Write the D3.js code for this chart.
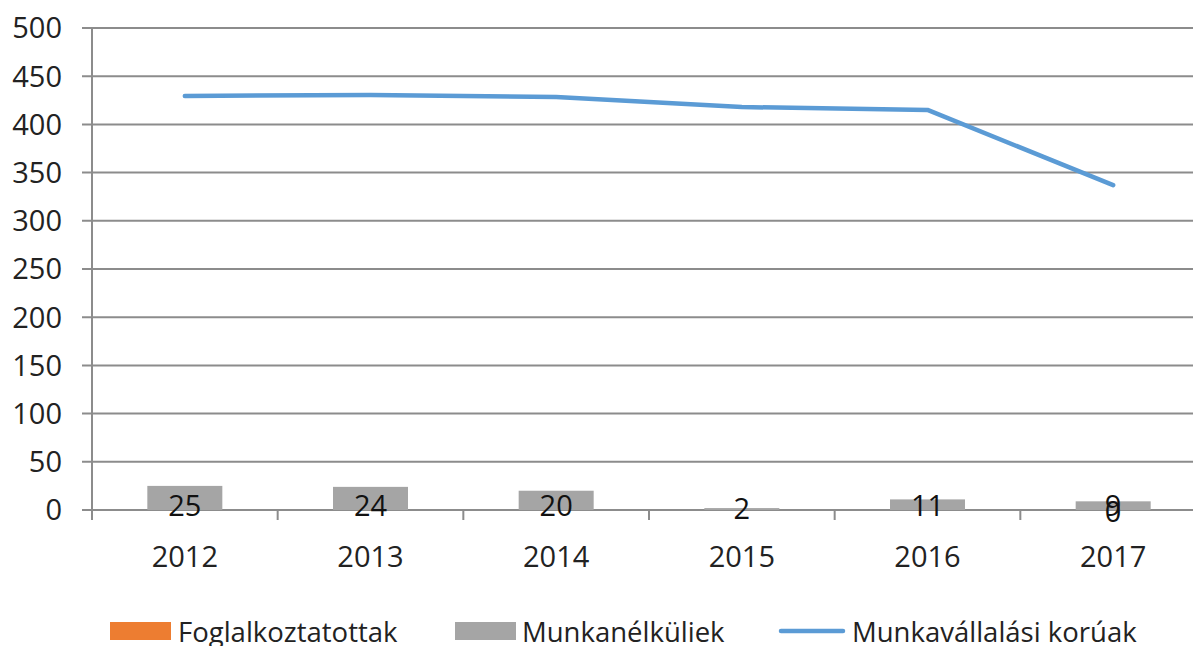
<!DOCTYPE html>
<html>
<head>
<meta charset="utf-8">
<script src="https://cdn.jsdelivr.net/npm/d3@7"></script>
<style>
  body { margin: 0; background: #fff; }
  svg { display: block; }
  text { font-family: "Open Sans", "DejaVu Sans", sans-serif; fill: #222; }
</style>
</head>
<body>
<svg id="chart" width="1193" height="646"></svg>
<script>
var years = ["2012", "2013", "2014", "2015", "2016", "2017"];
var employed = [null, null, null, null, null, 0];       // Foglalkoztatottak
var unemployed = [25, 24, 20, 2, 11, 9];                // Munkanélküliek
var workingAge = [429.5, 430.5, 428.5, 418, 415, 337];  // Munkavállalási korúak
var yTicks = [0, 50, 100, 150, 200, 250, 300, 350, 400, 450, 500];

var seriesNames = ["Foglalkoztatottak", "Munkanélküliek", "Munkavállalási korúak"];
var colors = ["#ED7D31", "#A5A5A5", "#5B9BD5"];

var margin = {top: 28, left: 92};
var plotW = 1114, plotH = 482;

var svg = d3.select("#chart");
var g = svg.append("g").attr("transform", "translate(" + margin.left + "," + margin.top + ")");

var x = d3.scaleBand().domain(years).range([0, plotW]);
var y = d3.scaleLinear().domain([0, 500]).range([plotH, 0]);

// gridlines
g.selectAll(".grid").data(yTicks).enter().append("line")
  .attr("x1", -10).attr("x2", plotW)
  .attr("y1", function(d){ return y(d); })
  .attr("y2", function(d){ return y(d); })
  .attr("stroke", "#8c8c8c").attr("stroke-width", 2);

// y axis line
g.append("line").attr("x1", 0).attr("x2", 0).attr("y1", 0).attr("y2", plotH + 10)
  .attr("stroke", "#8c8c8c").attr("stroke-width", 2);

// y tick labels
g.selectAll(".ylab").data(yTicks).enter().append("text")
  .attr("x", -30).attr("y", function(d){ return y(d); })
  .attr("dy", "0.36em").attr("text-anchor", "end")
  .style("font-size", "29px")
  .text(function(d){ return d; });

// x ticks at band boundaries
var bounds = years.map(function(d){ return x(d); });
g.selectAll(".xtick").data(bounds).enter().append("line")
  .attr("x1", function(d){ return d; }).attr("x2", function(d){ return d; })
  .attr("y1", plotH).attr("y2", plotH + 10)
  .attr("stroke", "#8c8c8c").attr("stroke-width", 2);

// x labels
g.selectAll(".xlab").data(years).enter().append("text")
  .attr("x", function(d){ return x(d) + x.bandwidth() / 2; })
  .attr("y", plotH + 47).attr("dy", "0.36em")
  .attr("text-anchor", "middle").style("font-size", "29px")
  .text(function(d){ return d; });

// stacked bars
var barW = 75;
var rows = years.map(function(d, i){ return {year: d, e: employed[i], u: unemployed[i]}; });

g.selectAll(".barE").data(rows).enter().append("rect")
  .attr("x", function(d){ return x(d.year) + (x.bandwidth() - barW) / 2; })
  .attr("width", barW)
  .attr("y", function(d){ return y(d.e || 0); })
  .attr("height", function(d){ return plotH - y(d.e || 0); })
  .attr("fill", colors[0]);

g.selectAll(".barU").data(rows).enter().append("rect")
  .attr("x", function(d){ return x(d.year) + (x.bandwidth() - barW) / 2; })
  .attr("width", barW)
  .attr("y", function(d){ return y((d.e || 0) + d.u); })
  .attr("height", function(d){ return y(d.e || 0) - y((d.e || 0) + d.u); })
  .attr("fill", colors[1]);

// labels
g.selectAll(".labU").data(rows).enter().append("text")
  .attr("x", function(d){ return x(d.year) + x.bandwidth() / 2; })
  .attr("y", function(d){ return Math.max(y((d.e || 0) + d.u / 2), plotH - 4); })
  .attr("dy", "0.36em").attr("text-anchor", "middle")
  .style("font-size", "29px").style("fill", "#111")
  .text(function(d){ return d.u; });

g.selectAll(".labE").data(rows.filter(function(d){ return d.e !== null; })).enter().append("text")
  .attr("x", function(d){ return x(d.year) + x.bandwidth() / 2; })
  .attr("y", function(d){ return y(d.e / 2) + 2; })
  .attr("dy", "0.36em").attr("text-anchor", "middle")
  .style("font-size", "29px").style("fill", "#111")
  .text(function(d){ return d.e; });

// line
var line = d3.line()
  .x(function(d, i){ return x(years[i]) + x.bandwidth() / 2; })
  .y(function(d){ return y(d); });
g.append("path").datum(workingAge)
  .attr("d", line).attr("fill", "none")
  .attr("stroke", colors[2]).attr("stroke-width", 4.5)
  .attr("stroke-linecap", "round").attr("stroke-linejoin", "round");

// legend
var legend = svg.append("g");
var lfs = "27.5px";
legend.append("rect").attr("x", 110).attr("y", 622).attr("width", 61).attr("height", 18).attr("fill", colors[0]);
legend.append("text").attr("x", 178).attr("y", 632).attr("dy", "0.36em").style("font-size", lfs).text(seriesNames[0]);
legend.append("rect").attr("x", 455).attr("y", 622).attr("width", 61).attr("height", 18).attr("fill", colors[1]);
legend.append("text").attr("x", 522).attr("y", 632).attr("dy", "0.36em").style("font-size", lfs).text(seriesNames[1]);
legend.append("line").attr("x1", 781).attr("x2", 843).attr("y1", 631).attr("y2", 631)
  .attr("stroke", colors[2]).attr("stroke-width", 4.5).attr("stroke-linecap", "round");
legend.append("text").attr("x", 852).attr("y", 632).attr("dy", "0.36em").style("font-size", lfs).text(seriesNames[2]);
</script>
</body>
</html>
